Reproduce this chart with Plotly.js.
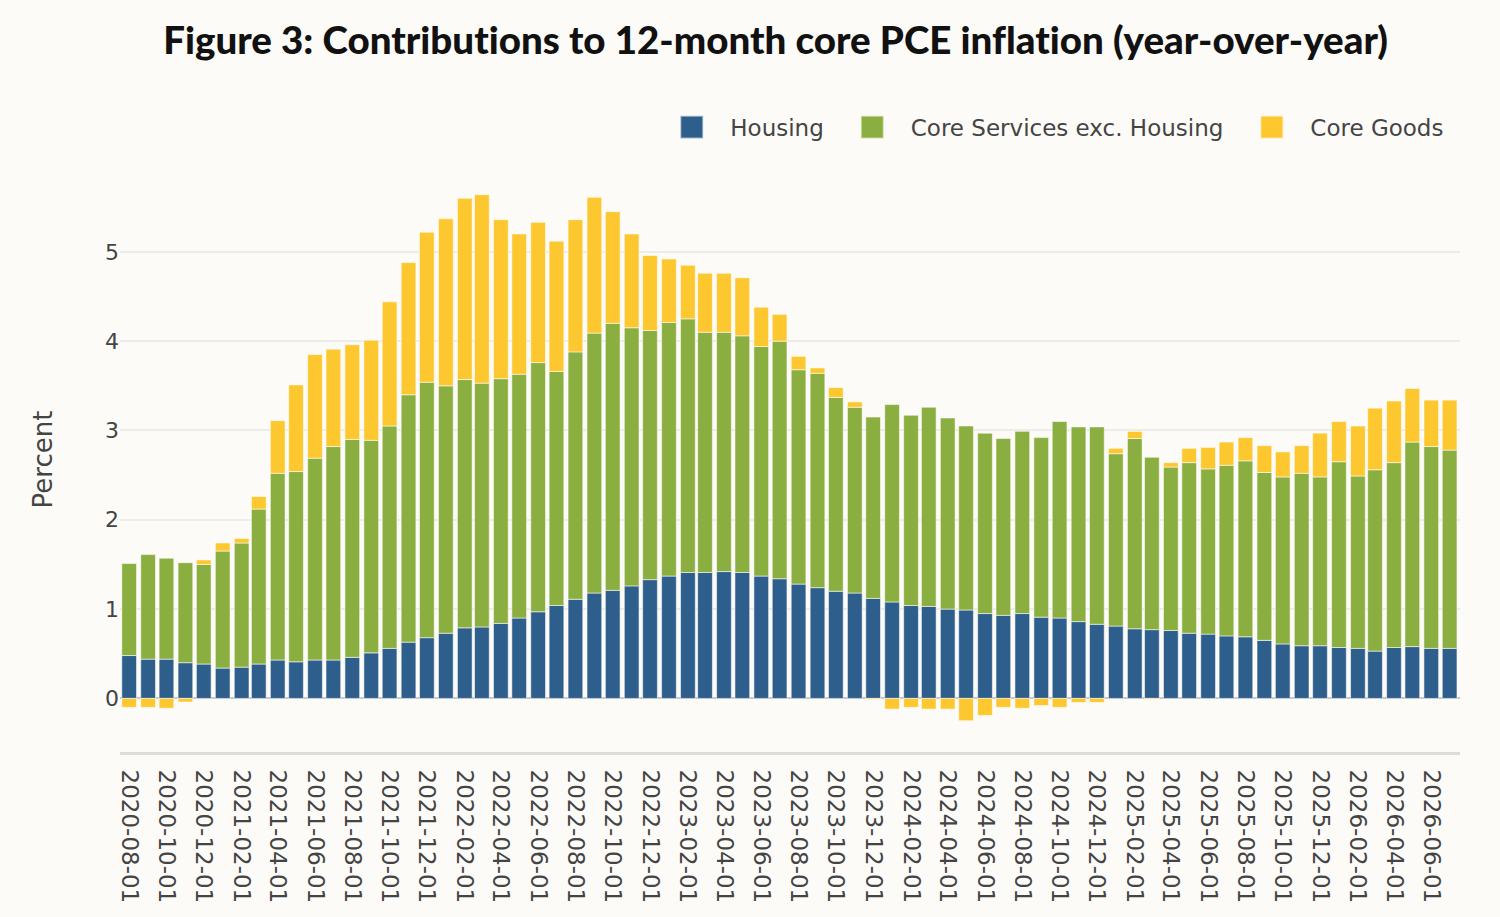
<!DOCTYPE html>
<html>
<head>
<meta charset="utf-8">
<script src="https://cdn.plot.ly/plotly-3.0.1.min.js"></script>
<style>
  html, body { margin: 0; padding: 0; background: #fcfbf8; }
  #chart { width: 1500px; height: 917px; }
  #chart text { font-variant-ligatures: none; font-feature-settings: "liga" 0; }
</style>
</head>
<body>
<div id="chart"></div>
<script>
const months = [
  "2020-08-01","2020-09-01","2020-10-01","2020-11-01","2020-12-01",
  "2021-01-01","2021-02-01","2021-03-01","2021-04-01","2021-05-01","2021-06-01","2021-07-01","2021-08-01","2021-09-01","2021-10-01","2021-11-01","2021-12-01",
  "2022-01-01","2022-02-01","2022-03-01","2022-04-01","2022-05-01","2022-06-01","2022-07-01","2022-08-01","2022-09-01","2022-10-01","2022-11-01","2022-12-01",
  "2023-01-01","2023-02-01","2023-03-01","2023-04-01","2023-05-01","2023-06-01","2023-07-01","2023-08-01","2023-09-01","2023-10-01","2023-11-01","2023-12-01",
  "2024-01-01","2024-02-01","2024-03-01","2024-04-01","2024-05-01","2024-06-01","2024-07-01","2024-08-01","2024-09-01","2024-10-01","2024-11-01","2024-12-01",
  "2025-01-01","2025-02-01","2025-03-01","2025-04-01","2025-05-01","2025-06-01","2025-07-01","2025-08-01","2025-09-01","2025-10-01","2025-11-01","2025-12-01",
  "2026-01-01","2026-02-01","2026-03-01","2026-04-01","2026-05-01","2026-06-01","2026-07-01"
];

const housing = [
  0.48,0.44,0.44,0.40,0.385,
  0.34,0.35,0.385,0.43,0.41,0.43,0.43,0.46,0.51,0.56,0.63,0.68,
  0.73,0.79,0.80,0.84,0.90,0.97,1.04,1.11,1.18,1.21,1.26,1.33,
  1.37,1.41,1.41,1.42,1.41,1.37,1.34,1.28,1.24,1.20,1.18,1.12,
  1.08,1.04,1.03,1.00,0.99,0.95,0.93,0.95,0.91,0.90,0.86,0.83,
  0.81,0.78,0.77,0.76,0.73,0.72,0.70,0.69,0.65,0.61,0.59,0.59,
  0.57,0.56,0.53,0.57,0.58,0.56,0.56
];

const coreServicesExHousing = [
  1.03,1.17,1.13,1.12,1.115,
  1.31,1.39,1.735,2.09,2.13,2.26,2.39,2.44,2.38,2.49,2.77,2.86,
  2.77,2.78,2.73,2.74,2.73,2.79,2.62,2.77,2.91,2.99,2.89,2.79,
  2.84,2.84,2.69,2.68,2.65,2.57,2.66,2.40,2.40,2.17,2.08,2.03,
  2.21,2.13,2.23,2.14,2.06,2.02,1.98,2.04,2.01,2.20,2.18,2.21,
  1.93,2.13,1.93,1.83,1.91,1.85,1.91,1.97,1.88,1.87,1.93,1.89,
  2.08,1.93,2.03,2.07,2.29,2.26,2.22
];

const coreGoods = [
  -0.10,-0.10,-0.11,-0.04,0.05,
  0.09,0.05,0.14,0.59,0.97,1.16,1.09,1.06,1.12,1.39,1.48,1.68,
  1.87,2.03,2.11,1.78,1.57,1.57,1.46,1.48,1.52,1.25,1.05,0.84,
  0.71,0.60,0.66,0.66,0.65,0.44,0.30,0.15,0.06,0.11,0.06,-0.01,
  -0.12,-0.10,-0.12,-0.12,-0.25,-0.19,-0.10,-0.11,-0.08,-0.10,-0.045,-0.045,
  0.06,0.08,-0.01,0.05,0.16,0.24,0.26,0.26,0.30,0.28,0.31,0.49,
  0.45,0.56,0.69,0.69,0.60,0.52,0.56
];

const seriesNames = ["Housing", "Core Services exc. Housing", "Core Goods"];
const yTickVals = [0, 1, 2, 3, 4, 5];

const colors = ["#2e5e8b", "#8bae40", "#fdc72f"];
const outline = { color: "rgba(255,255,255,0.55)", width: 1 };

const traces = [housing, coreServicesExHousing, coreGoods].map((vals, i) => ({
  type: "bar",
  name: seriesNames[i],
  x: months,
  y: vals,
  marker: { color: colors[i], line: outline },
  hovertemplate: "%{x|%Y-%m}: %{y:.2f}<extra>" + seriesNames[i] + "</extra>"
}));

const layout = {
  width: 1500,
  height: 917,
  barmode: "relative",
  bargap: 0.14,
  paper_bgcolor: "#fcfbf8",
  plot_bgcolor: "#fcfbf8",
  margin: { l: 120, r: 40, t: 167, b: 165 },
  font: { family: "DejaVu Sans, Verdana, sans-serif", color: "#444", size: 22 },
  title: {
    text: "Figure 3: Contributions to 12-month core PCE inflation (year-over-year)",
    font: { family: "Lato, Inter, sans-serif", size: 38.5, color: "#111", weight: 900 },
    xref: "container", x: 0.517, xanchor: "center",
    yref: "container", y: 0.956, yanchor: "middle"
  },
  legend: {
    orientation: "h",
    x: 0.992, xanchor: "right",
    y: 1.068, yanchor: "middle",
    font: { size: 23, color: "#444" },
    bgcolor: "rgba(0,0,0,0)",
    itemwidth: 72,
    traceorder: "normal"
  },
  xaxis: {
    type: "date",
    range: ["2020-07-17", "2026-07-18"],
    tick0: "2020-08-01",
    dtick: "M2",
    tickformat: "%Y-%m-%d",
    tickangle: 90,
    tickfont: { size: 23, color: "#444" },
    ticklabelstandoff: 10,
    showgrid: false,
    showline: true,
    linecolor: "#dcdcdc",
    linewidth: 3,
    ticks: "",
    automargin: false
  },
  yaxis: {
    range: [-0.6, 5.95],
    tickvals: yTickVals,
    tickfont: { size: 22, color: "#444" },
    gridcolor: "#ececea",
    gridwidth: 1.5,
    zeroline: true,
    zerolinecolor: "#c8c8c8",
    zerolinewidth: 2,
    showline: false,
    ticks: "",
    title: { text: "Percent", font: { size: 26, color: "#444" }, standoff: 44 },
    automargin: false
  }
};

Plotly.newPlot("chart", traces, layout, { displayModeBar: false, responsive: false }).then(() => {
  // enlarge legend swatches and place them 38px before each label
  document.querySelectorAll(".legend .traces").forEach(g => {
    const p = g.querySelector(".legendpoints path");
    const t = g.querySelector(".legendtext");
    if (!p || !t) return;
    const old = p.getAttribute("transform") || "";
    p.setAttribute("transform", old + " scale(1.9)");
    const pr = p.getBoundingClientRect();
    const tr = t.getBoundingClientRect();
    const cx = pr.left + pr.width / 2;
    const dx = (tr.left - 38.5) - cx;
    p.setAttribute("transform", "translate(" + dx + ",0) " + old + " scale(1.9)");
  });
});
</script>
</body>
</html>
